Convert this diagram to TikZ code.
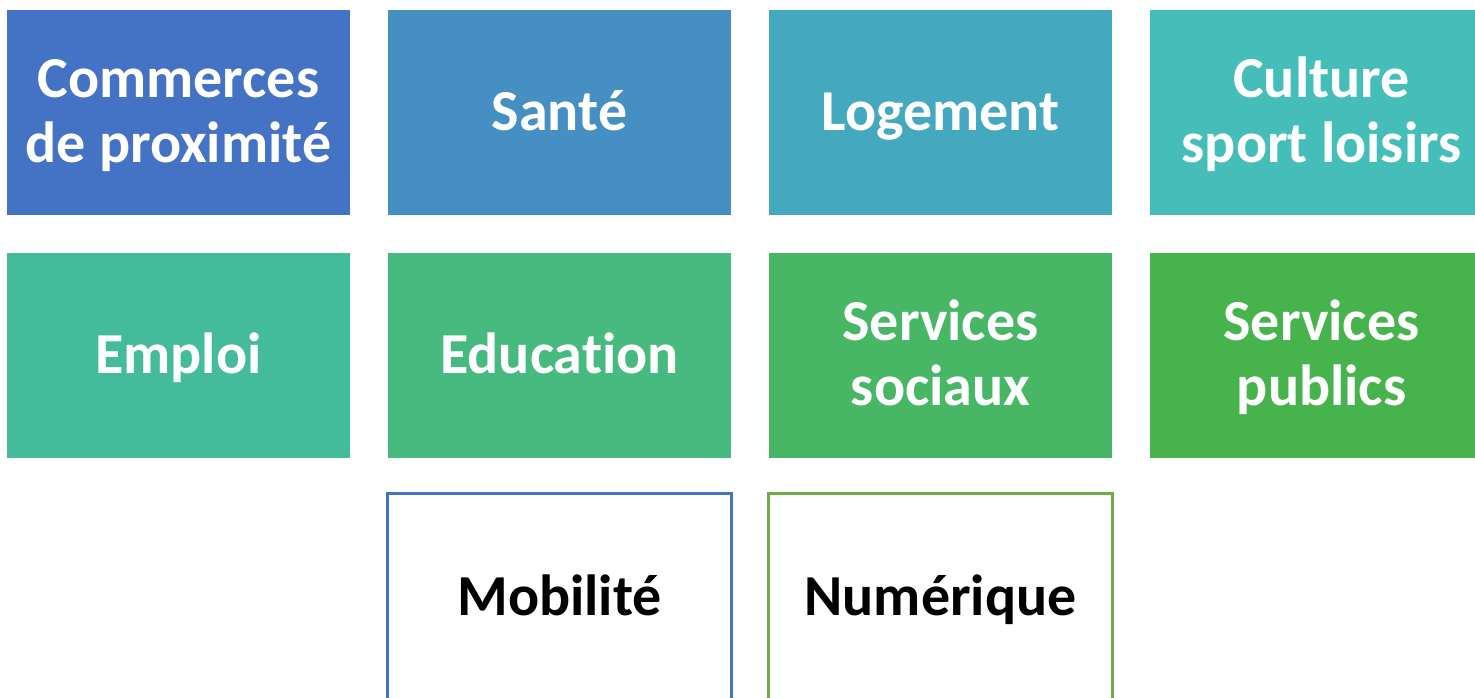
\documentclass[tikz,border=0pt]{standalone}
\usepackage{fontspec}
\setmainfont{Carlito}[Ligatures=NoCommon]
\usetikzlibrary{positioning}
\definecolor{cA}{HTML}{4472C4}
\definecolor{cB}{HTML}{458FC3}
\definecolor{cC}{HTML}{44A8BF}
\definecolor{cD}{HTML}{45BDB8}
\definecolor{cE}{HTML}{44BC9C}
\definecolor{cF}{HTML}{46BA7F}
\definecolor{cG}{HTML}{47B765}
\definecolor{cH}{HTML}{46B34C}
\definecolor{lineblue}{HTML}{4472C4}
\definecolor{linegreen}{HTML}{70AD47}
% fixed line box so every tile centres the same way
\newcommand\tilestrut{\rule[-15pt]{0pt}{65pt}}
% two-line label with struts in both rows
\newcommand\twolines[2]{\tilestrut#1\\#2\tilestrut}
\tikzset{
  tile/.style    = {rectangle, minimum width=343pt, minimum height=205pt,
                    inner sep=0pt, outer sep=0pt, text=white, align=center,
                    font=\fontsize{58}{65}\selectfont\bfseries,
                    execute at begin node=\tilestrut,
                    execute at end node=\tilestrut},
  tileout/.style = {tile, fill=white, line width=3pt, text=black,
                    minimum width=344pt, minimum height=209pt},
}
\begin{document}
\begin{tikzpicture}[x=1pt, y=-1pt, node distance=38pt and 38pt]
  \useasboundingbox (0,0) rectangle (1475,697);
  % first row
  \node[tile, fill=cA, anchor=north west] (com) at (7,10) {\twolines{Commerces}{de proximité}};
  \node[tile, fill=cB, right=of com]      (san) {Santé};
  \node[tile, fill=cC, right=of san]      (log) {Logement};
  \node[tile, fill=cD, right=of log]      (cul) {\twolines{Culture}{sport loisirs}};
  % second row
  \node[tile, fill=cE, below=of com]      (emp) {Emploi};
  \node[tile, fill=cF, right=of emp]      (edu) {Education};
  \node[tile, fill=cG, right=of edu]      (soc) {\twolines{Services}{sociaux}};
  \node[tile, fill=cH, right=of soc]      (pub) {\twolines{Services}{publics}};
  % open tiles
  \node[tileout, draw=lineblue, below=35.5pt of edu]  (mob) {Mobilité};
  \node[tileout, draw=linegreen, below=35.5pt of soc] (num) {Numérique};
\end{tikzpicture}
\end{document}
